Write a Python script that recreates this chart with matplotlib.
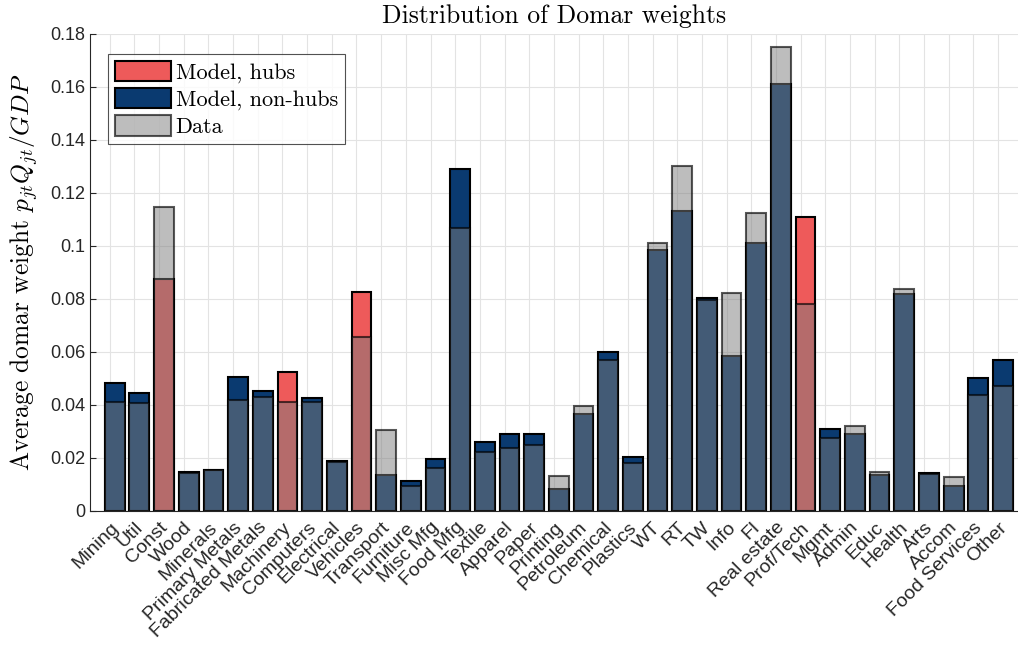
import numpy as np
import matplotlib
matplotlib.use("Agg")
import matplotlib.pyplot as plt
from matplotlib.patches import Patch
from matplotlib.ticker import FormatStrFormatter

sectors = [
    "Mining", "Util", "Const", "Wood", "Minerals", "Primary Metals",
    "Fabricated Metals", "Machinery", "Computers", "Electrical", "Vehicles",
    "Transport", "Furniture", "Misc Mfg", "Food Mfg", "Textile", "Apparel",
    "Paper", "Printing", "Petroleum", "Chemical", "Plastics", "WT", "RT", "TW",
    "Info", "FI", "Real estate", "Prof/Tech", "Mgmt", "Admin", "Educ", "Health",
    "Arts", "Accom", "Food Services", "Other",
]

model = [
    0.0481, 0.0443, 0.0874, 0.0146, 0.0154, 0.0505, 0.0451, 0.0522, 0.0427,
    0.0188, 0.0824, 0.0136, 0.0112, 0.0194, 0.1291, 0.0258, 0.0289, 0.0288,
    0.0081, 0.0366, 0.0598, 0.0204, 0.0986, 0.1130, 0.0804, 0.0584, 0.1012,
    0.1610, 0.1108, 0.0307, 0.0288, 0.0135, 0.0818, 0.0142, 0.0093, 0.0501,
    0.0568,
]

data = [
    0.0409, 0.0405, 0.1147, 0.0141, 0.0152, 0.0418, 0.0430, 0.0409, 0.0409,
    0.0185, 0.0655, 0.0305, 0.0093, 0.0162, 0.1067, 0.0223, 0.0235, 0.0247,
    0.0131, 0.0395, 0.0568, 0.0181, 0.1009, 0.1303, 0.0797, 0.0823, 0.1125,
    0.1752, 0.0779, 0.0273, 0.0320, 0.0145, 0.0837, 0.0140, 0.0128, 0.0437,
    0.0471,
]

hubs = ["Const", "Machinery", "Vehicles", "Prof/Tech"]

hub_color = "#EE5A5A"
nonhub_color = "#0A3A70"
data_face = (0.49, 0.49, 0.49, 0.5)
data_edge = (0.0, 0.0, 0.0, 0.65)

plt.rcParams["mathtext.fontset"] = "cm"
plt.rcParams["axes.unicode_minus"] = False

fig = plt.figure(figsize=(10.18, 6.58), dpi=100)
ax = fig.add_axes([90 / 1018, 1 - 510.7 / 658, (1017.8 - 90) / 1018, (510.7 - 34) / 658])

ticks = np.arange(1, len(sectors) + 1)
pos = ticks + 0.2
colors = [hub_color if s in hubs else nonhub_color for s in sectors]

ax.bar(pos, model, width=0.8, color=colors, edgecolor="black", linewidth=1.5, zorder=2)
ax.bar(pos, data, width=0.8, color=data_face, edgecolor=data_edge, linewidth=1.5, zorder=3)

ax.set_xlim(0.2, 37.8)
ax.set_ylim(0, 0.18)
ax.set_yticks(np.arange(0, 0.181, 0.02))
ax.yaxis.set_major_formatter(FormatStrFormatter("%g"))
ax.set_xticks(ticks)
ax.set_xticklabels(sectors, rotation=45, ha="right", rotation_mode="anchor",
                   fontsize=14, family="Liberation Sans", color="#262626")
for lab in ax.get_yticklabels():
    lab.set_family("Liberation Sans")
    lab.set_fontsize(13)
    lab.set_color("#262626")

ax.tick_params(direction="in", length=4, width=0.8, colors="#262626")
ax.tick_params(axis="x", pad=6)
ax.grid(True, color="#E3E3E3", linewidth=0.8, zorder=0)
ax.set_axisbelow(True)
for side in ["top", "right"]:
    ax.spines[side].set_visible(False)
for side in ["left", "bottom"]:
    ax.spines[side].set_color("#262626")
    ax.spines[side].set_linewidth(0.8)

ax.set_title("Distribution of Domar weights", fontsize=18.5, family="cmr10", pad=8)
ax.set_ylabel("Average domar weight $p_{jt}Q_{jt}/GDP$", fontsize=18.3, family="cmr10", labelpad=7)

handles = [
    Patch(facecolor=hub_color, edgecolor="black", linewidth=1.5, label="Model, hubs"),
    Patch(facecolor=nonhub_color, edgecolor="black", linewidth=1.5, label="Model, non-hubs"),
    Patch(facecolor=data_face, edgecolor=data_edge, linewidth=1.5, label="Data"),
]
leg = ax.legend(handles=handles, loc="upper left", bbox_to_anchor=(0.0194, 0.958),
                prop={"family": "cmr10", "size": 16}, frameon=True, fancybox=False,
                edgecolor="#262626", handlelength=2.55, handleheight=1.05,
                handletextpad=0.2, labelspacing=0.22, borderpad=0.3, borderaxespad=0)
leg.get_frame().set_linewidth(0.8)

fig.savefig("out.png", dpi=100, facecolor="white")
